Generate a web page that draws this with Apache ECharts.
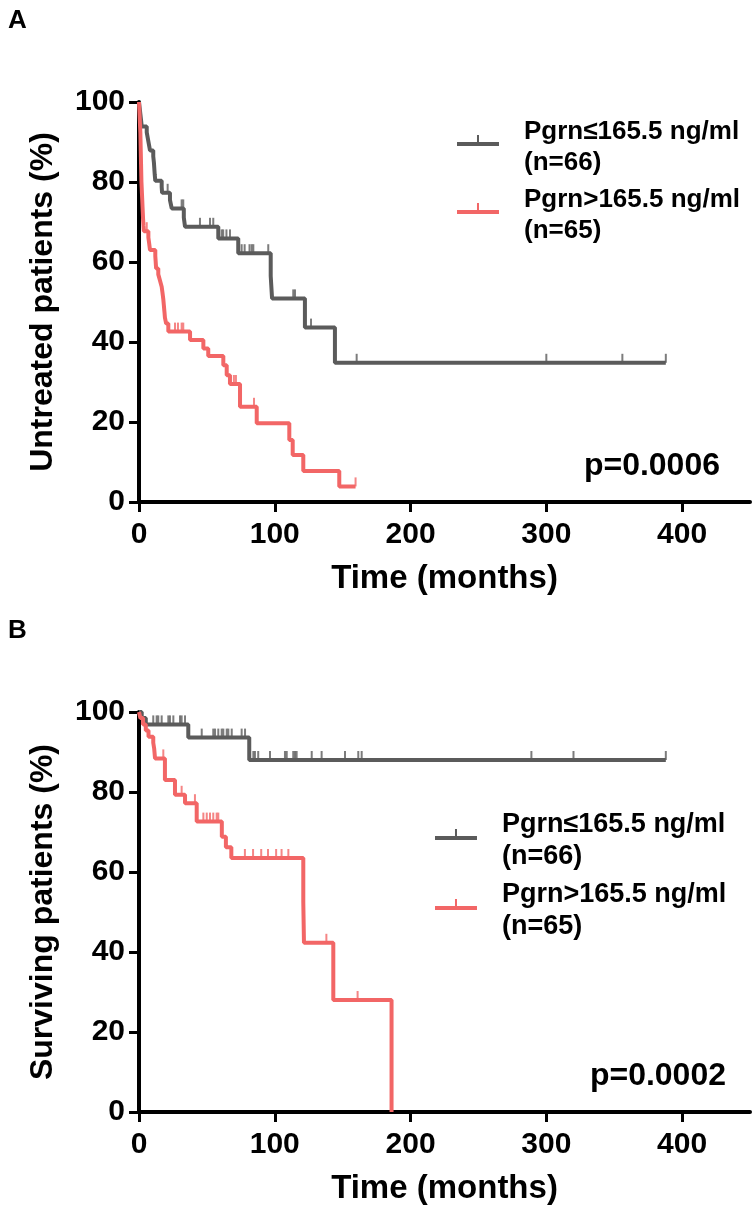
<!DOCTYPE html>
<html><head><meta charset="utf-8">
<script src="https://cdn.jsdelivr.net/npm/echarts@6/dist/echarts.min.js"></script>
<style>html,body{margin:0;padding:0;background:#fff}#c{width:754px;height:1215px}</style>
</head><body><div id="c"></div>
<script>
const FONT = "'Liberation Sans', Arial, sans-serif";
const GRAY = '#5b5b5b';
const RED = '#f26666';

const xTickValues = [0, 100, 200, 300, 400];
const yTickValues = [0, 20, 40, 60, 80, 100];
const nameLow = 'Pgrn≤165.5 ng/ml\n(n=66)';
const nameHigh = 'Pgrn>165.5 ng/ml\n(n=65)';
const panelLetters = ['A', 'B'];
const pValues = ['p=0.0006', 'p=0.0002'];
const yTitles = ['Untreated patients (%)', 'Surviving patients (%)'];
const xTitle = 'Time (months)';

// Panel A - untreated patients
const aLowT = [0,0.5,1,1.5,2,5.7,6.5,7.3,8.1,10.5,11,11.3,11.6,12,16.7,17,22.8,24.1,33,33.9,58.4,73.1,97,98,122.2,144.3,388];
const aLowS = [100,98.5,97,95.5,93.9,92.4,90.9,89.4,87.9,86.4,84.8,83.3,81.8,80.3,78.8,77.3,75.5,73.4,71.1,68.8,65.9,62.2,56.5,50.9,43.6,34.8,34.8];
const aLowCens = [21.1,31.4,32.6,44.9,52.3,54.7,60.9,62,64.4,67,75.6,77.8,81.4,83,84.2,95.2,113.6,114.9,126.7,160.3,300,356,388];

const aHighT = [0,0.2,0.4,0.6,0.8,1.0,1.1,1.2,1.3,1.4,1.5,1.6,1.7,1.8,2.0,2.2,2.4,2.6,2.8,3.0,3.3,3.6,6.9,7.5,8.1,12.0,12.3,12.6,14.2,15.5,16.7,17.3,17.9,18.3,18.7,19.1,20,21.6,37.6,47.4,51,62.1,64.6,67,74.4,86.7,110.7,113.2,121,147.5,159.5];
const aHighS = [100,98.5,96.9,95.4,93.8,92.3,90.8,89.2,87.7,86.2,84.6,83.1,81.5,80,78.5,76.9,75.4,73.8,72.3,70.8,69.2,67.7,66.1,64.6,63.0,61.5,60.0,58.4,56.9,55.3,53.8,52.3,50.7,49.2,47.7,46.1,44.6,42.6,40.5,38.4,36.5,34.2,31.7,29.5,23.8,19.7,15.5,11.75,7.75,3.9,3.9];
const aHighCens = [5.7,26.5,28.7,31.4,32.6,69.9,71.4,84.7,159.5];

// Panel B - surviving patients
const bLowT = [0,2,5,36.3,81.2,388];
const bLowS = [100,98.5,96.9,93.6,88.0,88.0];
const bLowCens = [10.5,13,14.2,16.7,21.6,22.8,25.3,30.2,31.4,33.9,46.2,54.7,56,58.4,60.9,62.1,64.6,65.8,68.3,75.6,78.1,84.2,85.4,87.8,96.5,107.5,108.8,113.6,114.9,116.1,127.2,134.5,151.7,161.5,164,289,320,388];

const bHighT = [0,1,3,5,7,10.5,11.2,11.8,19.1,26.5,33.9,42.5,61,64,68,121,121.5,143.1,186];
const bHighS = [100,98.5,96.9,95.4,93.8,92.3,90.8,88.4,83.0,79.3,77.2,72.6,68.8,66.2,63.5,52.5,42.3,28.0,0];
const bHighCens = [17.9,31.4,33.9,41.2,47.4,49.9,52.3,54.7,57.2,58.4,78,84,90,95,101,105,110,138,161];

function zip(T, S) { return T.map((t, i) => [t, S[i]]); }
function stepAt(T, S, t) { let s = S[0]; for (let i = 0; i < T.length; i++) { if (T[i] <= t) s = S[i]; else break; } return s; }
function cens(T, S, C) { return C.map(t => [t, stepAt(T, S, t)]); }

const grids = [
  { left: 139, top: 102, width: 611, height: 400 },
  { left: 139, top: 712, width: 611, height: 400 }
];

function xAx(i) {
  return {
    gridIndex: i, type: 'value', min: 0, max: 450,
    name: xTitle, nameLocation: 'middle', nameGap: 60,
    nameTextStyle: { fontFamily: FONT, fontWeight: 'bold', fontSize: 33, color: '#000' },
    axisLine: { show: true, onZero: false, lineStyle: { color: '#000', width: 4 } },
    axisTick: { show: true, length: 10, lineStyle: { color: '#000', width: 3 }, customValues: xTickValues },
    axisLabel: { fontFamily: FONT, fontWeight: 'bold', fontSize: 30, color: '#000', margin: 18, customValues: xTickValues },
    splitLine: { show: false }
  };
}
function yAx(i) {
  return {
    gridIndex: i, type: 'value', min: 0, max: 100, interval: 20,
    name: yTitles[i], nameLocation: 'middle', nameGap: 80,
    nameTextStyle: { fontFamily: FONT, fontWeight: 'bold', fontSize: 32, color: '#000' },
    axisLine: { show: true, lineStyle: { color: '#000', width: 4 } },
    axisTick: { show: true, length: 10, lineStyle: { color: '#000', width: 3 } },
    axisLabel: { fontFamily: FONT, fontWeight: 'bold', fontSize: 30, color: '#000', margin: 14 },
    splitLine: { show: false }
  };
}
function curve(name, idx, T, S, color) {
  return { type: 'line', name: name, xAxisIndex: idx, yAxisIndex: idx, step: 'end', data: zip(T, S),
    symbol: 'none', showSymbol: false, lineStyle: { color: color, width: 4 }, itemStyle: { color: color },
    silent: true, animation: false };
}
function ticks(name, idx, T, S, C, color) {
  return { type: 'scatter', name: name, xAxisIndex: idx, yAxisIndex: idx, data: cens(T, S, C),
    symbol: 'rect', symbolSize: [2, 9], symbolOffset: [0, -4.5], itemStyle: { color: color },
    silent: true, animation: false, z: 3 };
}
function legend(left, top, size, lh) {
  return {
    data: [nameLow, nameHigh], orient: 'vertical', left: left, top: top,
    itemWidth: 42, itemHeight: 24, itemGap: 6, selectedMode: false,
    icon: 'path://M0,7L42,7L42,11L0,11Z M20,0L22,0L22,7L20,7Z M0,24L0.1,24L0.1,24.01Z',
    textStyle: { fontFamily: FONT, fontWeight: 'bold', fontSize: size, lineHeight: lh, color: '#000', padding: [0, 0, 0, 20] }
  };
}

const chart = echarts.init(document.getElementById('c'), null, { renderer: 'canvas' });
chart.setOption({
  backgroundColor: '#fff',
  animation: false,
  grid: grids,
  xAxis: [xAx(0), xAx(1)],
  yAxis: [yAx(0), yAx(1)],
  legend: [legend(452, 111, 26, 31), legend(430, 804, 27, 32)],
  series: [
    curve(nameLow, 0, aLowT, aLowS, GRAY),
    ticks('cLowA', 0, aLowT, aLowS, aLowCens, GRAY),
    curve(nameHigh, 0, aHighT, aHighS, RED),
    ticks('cHighA', 0, aHighT, aHighS, aHighCens, RED),
    curve(nameLow, 1, bLowT, bLowS, GRAY),
    ticks('cLowB', 1, bLowT, bLowS, bLowCens, GRAY),
    curve(nameHigh, 1, bHighT, bHighS, RED),
    ticks('cHighB', 1, bHighT, bHighS, bHighCens, RED)
  ],
  graphic: [
    { type: 'text', left: 8, top: 8, style: { text: panelLetters[0], font: "bold 26px " + FONT, fill: '#000' } },
    { type: 'text', left: 8, top: 618, style: { text: panelLetters[1], font: "bold 26px " + FONT, fill: '#000' } },
    { type: 'text', right: 34, top: 450, style: { text: pValues[0], font: "bold 32px " + FONT, fill: '#000' } },
    { type: 'text', right: 28, top: 1060, style: { text: pValues[1], font: "bold 32px " + FONT, fill: '#000' } }
  ]
});
</script>
</body></html>
